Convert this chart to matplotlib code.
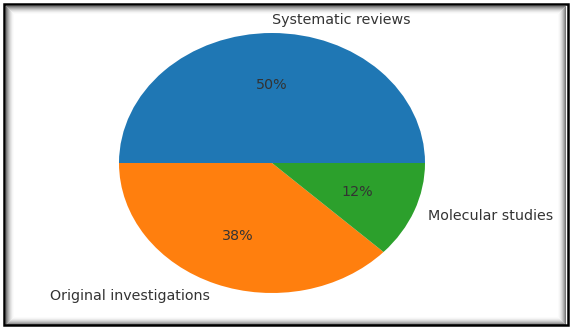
import matplotlib
matplotlib.use("Agg")
import matplotlib.pyplot as plt
from matplotlib.patches import Rectangle

categories = ["Systematic reviews", "Original investigations", "Molecular studies"]
values = [50, 38, 12]
colors = ["#1f77b4", "#ff7f0e", "#2ca02c"]

W, H = 572, 327
fig = plt.figure(figsize=(W / 100, H / 100), dpi=100)

cx, cy, rx, ry = 272, 163, 153, 130
ax = fig.add_axes([(cx - 1.25 * rx) / W, (H - cy - 1.25 * ry) / H, 2.5 * rx / W, 2.5 * ry / H])
wedges, texts, autotexts = ax.pie(values, labels=categories, colors=colors, autopct="%1.0f%%")
ax.set_aspect("auto")
ax.set_xlim(-1.25, 1.25)
ax.set_ylim(-1.25, 1.25)
for t in texts + autotexts:
    t.set_fontsize(10.3)
    t.set_color("#333333")
texts[0].set_horizontalalignment("left")

# frame with inner shadow
for i in range(8):
    g = 0.35 + i * 0.08
    fig.add_artist(Rectangle(((6 + i) / W, (3 + i) / H), (W - 13 - 2 * i) / W, (H - 9 - 2 * i) / H,
                             transform=fig.transFigure, fill=False,
                             edgecolor=(g, g, g, max(0.0, 0.8 - i * 0.1)), linewidth=0.75))
fig.add_artist(Rectangle((4 / W, 2.5 / H), (W - 8) / W, (H - 6) / H, transform=fig.transFigure,
                         fill=False, edgecolor="black", linewidth=1.8))

fig.savefig("out.png", dpi=100)
